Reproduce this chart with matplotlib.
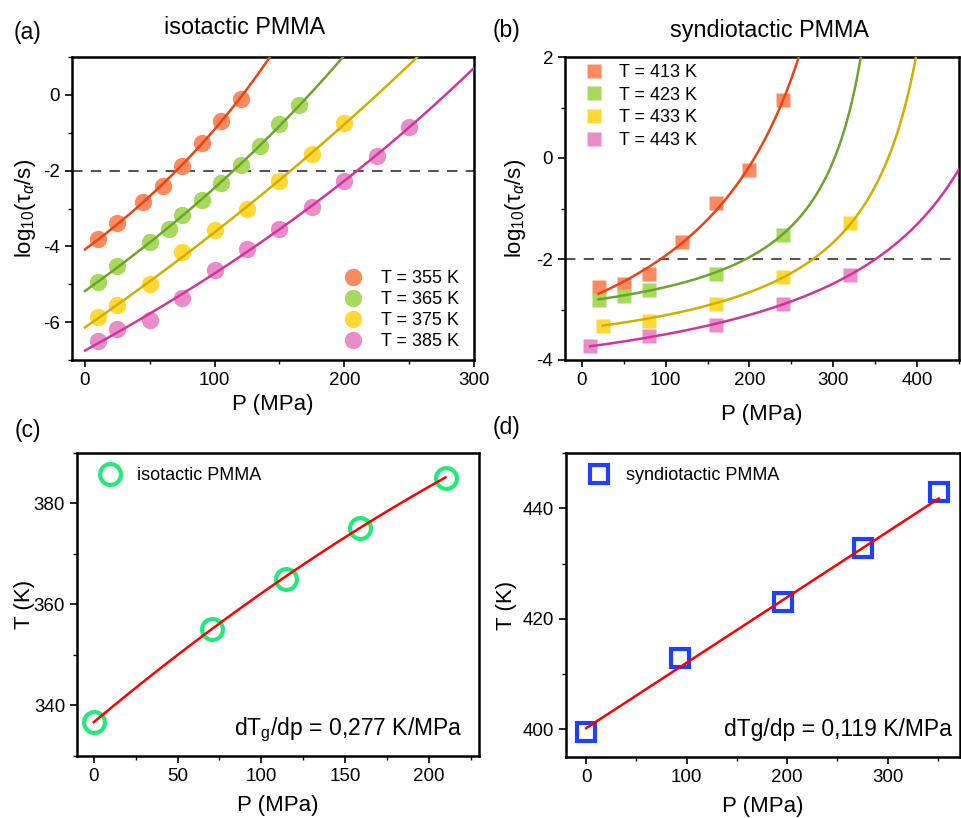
import numpy as np
import matplotlib
matplotlib.use("Agg")
import matplotlib.pyplot as plt
from matplotlib.ticker import MultipleLocator

plt.rcParams['font.family'] = ['Liberation Sans', 'DejaVu Sans']
plt.rcParams['mathtext.fontset'] = 'custom'
plt.rcParams['mathtext.rm'] = 'Liberation Sans'
plt.rcParams['mathtext.it'] = 'Liberation Sans:italic'
plt.rcParams['mathtext.bf'] = 'Liberation Sans:bold'
plt.rcParams['axes.unicode_minus'] = False

# ---------------- (a) isotactic PMMA ----------------
iso_labels = ["T = 355 K", "T = 365 K", "T = 375 K", "T = 385 K"]
iso_P_355 = [10, 25, 45, 60, 75, 90, 105, 120]
iso_y_355 = [-3.80, -3.37, -2.84, -2.40, -1.87, -1.27, -0.68, -0.11]
iso_P_365 = [10, 25, 50, 65, 75, 90, 105, 120, 135, 150, 165]
iso_y_365 = [-4.93, -4.52, -3.89, -3.55, -3.17, -2.77, -2.32, -1.84, -1.34, -0.77, -0.28]
iso_P_375 = [10, 25, 50, 75, 100, 125, 150, 175, 200]
iso_y_375 = [-5.87, -5.55, -4.99, -4.16, -3.58, -3.00, -2.28, -1.55, -0.75]
iso_P_385 = [10, 25, 50, 75, 100, 125, 150, 175, 200, 225, 250]
iso_y_385 = [-6.49, -6.18, -5.94, -5.36, -4.62, -4.08, -3.55, -2.96, -2.28, -1.62, -0.86]
# pressure-VFT fit parameters: log tau = A + B*P/(P0-P)
iso_fit_A = [-4.08, -5.18, -6.14, -6.75]
iso_fit_B = [12.37, 22.2, 40.05, 22.53]
iso_fit_P0 = [490.0, 914.0, 1694.0, 1206.0]
iso_fit_start = [0, 0, 0, 0]

# ---------------- (b) syndiotactic PMMA ----------------
syn_labels = ["T = 413 K", "T = 423 K", "T = 433 K", "T = 443 K"]
syn_P_413 = [20, 50, 80, 120, 160, 200, 240]
syn_y_413 = [-2.55, -2.50, -2.29, -1.66, -0.90, -0.23, 1.15]
syn_P_423 = [20, 50, 80, 160, 240]
syn_y_423 = [-2.82, -2.74, -2.62, -2.30, -1.52]
syn_P_433 = [25, 80, 160, 240, 320]
syn_y_433 = [-3.32, -3.22, -2.89, -2.36, -1.29]
syn_P_443 = [10, 80, 160, 240, 320]
syn_y_443 = [-3.73, -3.53, -3.30, -2.90, -2.32]
syn_fit_A = [-2.833, -2.845, -3.374, -3.752]
syn_fit_B = [2.765, 0.839, 0.968, 1.366]
syn_fit_P0 = [407.0, 390.5, 470.5, 624.0]
syn_fit_start = [20, 20, 25, 10]

# ---------------- (c) / (d) Tg(P) ----------------
iso_Tg_P = [0, 70.5, 114.5, 158.7, 210]
iso_Tg_T = [336.8, 355.1, 365.1, 375.1, 385.0]
iso_Tg_fit = [336.7, 0.277, -2.2e-4]   # T = c0 + c1 P + c2 P^2
syn_Tg_P = [0, 93.6, 196.2, 275.6, 350.8]
syn_Tg_T = [399.6, 412.9, 423.0, 432.9, 443.0]
syn_Tg_fit = [400.2, 0.1185]

marker_colors = ["#FC8A60", "#A8D85C", "#FFD836", "#EA8CC8"]
line_colors = ["#EE4210", "#6CA42E", "#D2AE00", "#D3339D"]

W, H = 961, 818
fig = plt.figure(figsize=(W / 100, H / 100), dpi=100)

def box(l, t, r, b):
    return [l / W, 1 - b / H, (r - l) / W, (b - t) / H]

axA = fig.add_axes(box(72, 57, 474, 360))
axB = fig.add_axes(box(565, 57, 959, 360))
axC = fig.add_axes(box(77, 453, 479, 756))
axD = fig.add_axes(box(566, 453, 960, 757))

TICK_FS = 13.5
LAB_FS = 16

def style(ax):
    for s in ax.spines.values():
        s.set_linewidth(1.8)
    ax.tick_params(which='major', direction='out', length=5, width=1.2, labelsize=TICK_FS,
                   top=False, right=False)
    ax.tick_params(which='minor', direction='out', length=3, width=1.0,
                   top=False, right=False)

# (a)
iso_P = [iso_P_355, iso_P_365, iso_P_375, iso_P_385]
iso_y = [iso_y_355, iso_y_365, iso_y_375, iso_y_385]
for i in range(4):
    axA.plot(iso_P[i], iso_y[i], 'o', ms=12.5, mfc=marker_colors[i], mec='none',
             label=iso_labels[i], zorder=3)
    p = np.linspace(iso_fit_start[i], 300, 800)
    y = iso_fit_A[i] + iso_fit_B[i] * p / (iso_fit_P0[i] - p)
    axA.plot(p, y, '-', color=line_colors[i], lw=1.8, zorder=4)
axA.axhline(-2, color='#555555', lw=1.5, ls=(0, (5, 4)), zorder=2)
axA.set_xlim(-10, 300)
axA.set_ylim(-7, 1)
axA.xaxis.set_major_locator(MultipleLocator(100))
axA.xaxis.set_minor_locator(MultipleLocator(50))
axA.yaxis.set_major_locator(MultipleLocator(2))
axA.yaxis.set_minor_locator(MultipleLocator(1))
style(axA)
axA.set_xlabel("P (MPa)", fontsize=LAB_FS, labelpad=4)
axA.set_ylabel("log$_{10}$($\\mathregular{\\tau}_{\\alpha}$/s)", fontsize=LAB_FS, labelpad=4)
axA.legend(loc='lower right', bbox_to_anchor=(1.0, -0.015), frameon=False, fontsize=13,
           handletextpad=0.8, labelspacing=0.22, borderaxespad=0.4, handlelength=1.6,
           markerscale=1.0)

# (b)
syn_P = [syn_P_413, syn_P_423, syn_P_433, syn_P_443]
syn_y = [syn_y_413, syn_y_423, syn_y_433, syn_y_443]
for i in range(4):
    axB.plot(syn_P[i], syn_y[i], 's', ms=10.5, mfc=marker_colors[i], mec='none',
             label=syn_labels[i], zorder=3)
    p = np.linspace(syn_fit_start[i], min(syn_fit_P0[i] - 0.5, 450), 3000)
    y = syn_fit_A[i] + syn_fit_B[i] * p / (syn_fit_P0[i] - p)
    axB.plot(p, y, '-', color=line_colors[i], lw=1.8, zorder=4)
axB.axhline(-2, color='#555555', lw=1.5, ls=(0, (5, 4)), zorder=2)
axB.set_xlim(-20, 450)
axB.set_ylim(-4, 2)
axB.xaxis.set_major_locator(MultipleLocator(100))
axB.xaxis.set_minor_locator(MultipleLocator(50))
axB.yaxis.set_major_locator(MultipleLocator(2))
axB.yaxis.set_minor_locator(MultipleLocator(1))
style(axB)
axB.set_xlabel("P (MPa)", fontsize=LAB_FS, labelpad=11)
axB.set_ylabel("log$_{10}$($\\mathregular{\\tau}_{\\alpha}$/s)", fontsize=LAB_FS, labelpad=6)
axB.legend(loc='upper left', bbox_to_anchor=(0.0, 1.025), frameon=False, fontsize=13,
           handletextpad=0.6, labelspacing=0.32, borderaxespad=0.4, handlelength=1.6)

# (c)
axC.plot(iso_Tg_P, iso_Tg_T, 'o', ms=15, mfc='none', mec='#22EA78', mew=3,
         label="isotactic PMMA", zorder=3)
p = np.linspace(iso_Tg_P[0], iso_Tg_P[-1], 300)
axC.plot(p, iso_Tg_fit[0] + iso_Tg_fit[1] * p + iso_Tg_fit[2] * p ** 2, '-',
         color='#FF0000', lw=1.8, zorder=4)
axC.set_xlim(-10, 230)
axC.set_ylim(330, 390)
axC.xaxis.set_major_locator(MultipleLocator(50))
axC.xaxis.set_minor_locator(MultipleLocator(25))
axC.yaxis.set_major_locator(MultipleLocator(20))
axC.yaxis.set_minor_locator(MultipleLocator(10))
style(axC)
axC.set_xlabel("P (MPa)", fontsize=LAB_FS, labelpad=7)
axC.set_ylabel("T (K)", fontsize=LAB_FS, labelpad=-1)
axC.legend(loc='upper left', bbox_to_anchor=(0.01, 1.0), frameon=False, fontsize=13,
           handletextpad=0.7, borderaxespad=0.4, handlelength=1.6)
axC.text(0.96, 0.07, "dT$_{\\mathregular{g}}$/dp = 0,277 K/MPa", transform=axC.transAxes,
         ha='right', va='baseline', fontsize=16.5)

# (d)
axD.plot(syn_Tg_P, syn_Tg_T, 's', ms=13, mfc='none', mec='#2040FF', mew=3,
         label="syndiotactic PMMA", zorder=3)
p = np.linspace(syn_Tg_P[0], syn_Tg_P[-1], 300)
axD.plot(p, syn_Tg_fit[0] + syn_Tg_fit[1] * p, '-', color='#FF0000', lw=1.8, zorder=4)
axD.set_xlim(-20, 372)
axD.set_ylim(395, 450)
axD.xaxis.set_major_locator(MultipleLocator(100))
axD.xaxis.set_minor_locator(MultipleLocator(50))
axD.yaxis.set_major_locator(MultipleLocator(20))
axD.yaxis.set_minor_locator(MultipleLocator(10))
style(axD)
axD.set_xlabel("P (MPa)", fontsize=LAB_FS, labelpad=7)
axD.set_ylabel("T (K)", fontsize=LAB_FS, labelpad=4)
axD.legend(loc='upper left', bbox_to_anchor=(0.01, 1.0), frameon=False, fontsize=13,
           handletextpad=0.7, borderaxespad=0.4, handlelength=1.6)
axD.text(0.98, 0.07, "dTg/dp = 0,119 K/MPa", transform=axD.transAxes,
         ha='right', va='baseline', fontsize=16.5)

# titles and panel labels
fig.text(245 / W, 1 - 27 / H, "isotactic PMMA", ha='center', va='center', fontsize=16.8)
fig.text(770 / W, 1 - 30 / H, "syndiotactic PMMA", ha='center', va='center', fontsize=16.8)
fig.text(14 / W, 1 - 33 / H, "(a)", ha='left', va='center', fontsize=16.5)
fig.text(493 / W, 1 - 30 / H, "(b)", ha='left', va='center', fontsize=16.5)
fig.text(15 / W, 1 - 430 / H, "(c)", ha='left', va='center', fontsize=16.5)
fig.text(493 / W, 1 - 427 / H, "(d)", ha='left', va='center', fontsize=16.5)

fig.savefig("out.png", dpi=100)
